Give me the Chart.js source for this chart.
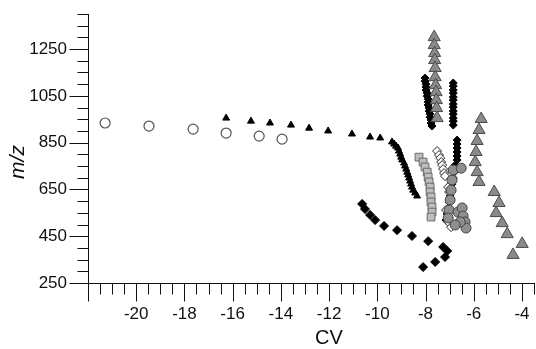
<!DOCTYPE html>
<html>
<head>
<meta charset="utf-8">
<script src="https://cdn.jsdelivr.net/npm/chart.js@4.4.1/dist/chart.umd.min.js"></script>
<style>
  html, body { margin: 0; padding: 0; background: #fff; overflow: hidden; }
  canvas { display: block; }
</style>
</head>
<body>
<canvas id="cvChart" width="536" height="349"></canvas>
<script>
// tick labels
const xTicks = [-22, -20, -18, -16, -14, -12, -10, -8, -6, -4];
const yTicks = [250, 450, 650, 850, 1050, 1250];

// series (CV, m/z)
const openCircles = [
  [-21.29, 934], [-19.47, 921], [-17.64, 908], [-16.27, 891], [-14.9, 878], [-13.95, 865]
];
const blackTriangles = [
  [-16.27, 955], [-15.24, 942], [-14.45, 934], [-13.58, 925], [-12.83, 912], [-12.04, 900],
  [-11.05, 887], [-10.3, 874], [-9.88, 870], [-9.39, 853], [-9.3, 844], [-9.22, 835],
  [-9.14, 827], [-9.1, 814], [-9.05, 801], [-9.01, 788], [-8.97, 776], [-8.89, 763],
  [-8.85, 750], [-8.8, 737], [-8.76, 724], [-8.72, 712], [-8.68, 699], [-8.64, 686],
  [-8.6, 673], [-8.56, 660], [-8.51, 647], [-8.43, 635], [-8.35, 622]
];
const grayTriangles = [
  [-7.64, 1301], [-7.64, 1267], [-7.62, 1233], [-7.62, 1203], [-7.6, 1169], [-7.6, 1130],
  [-7.58, 1096], [-7.56, 1066], [-7.55, 1032], [-7.54, 998], [-7.52, 955],
  [-5.69, 951], [-5.78, 904], [-5.86, 857], [-5.9, 810], [-5.94, 767], [-5.86, 724],
  [-5.78, 682], [-5.15, 639], [-4.95, 592], [-5.07, 549], [-4.82, 506], [-4.61, 459],
  [-3.99, 417], [-4.37, 370]
];
const blackDiamondsUpper = [
  [-8.02, 1126], [-8.02, 1113], [-7.98, 1100], [-7.98, 1088], [-7.98, 1075], [-7.93, 1062],
  [-7.93, 1049], [-7.89, 1036], [-7.89, 1024], [-7.89, 1011], [-7.85, 998], [-7.85, 985],
  [-7.81, 972], [-7.81, 959], [-7.77, 947], [-7.77, 934], [-7.73, 921],
  [-6.85, 1105], [-6.85, 1092], [-6.85, 1075], [-6.85, 1062], [-6.85, 1045], [-6.85, 1032],
  [-6.85, 1015], [-6.85, 1002], [-6.85, 985], [-6.85, 972], [-6.85, 955], [-6.85, 942],
  [-6.85, 925],
  [-6.69, 861], [-6.69, 844], [-6.69, 827], [-6.69, 810], [-6.69, 793], [-6.69, 776],
  [-6.77, 754], [-6.81, 724], [-6.85, 699], [-6.9, 673], [-6.94, 647], [-6.98, 622],
  [-7.02, 596], [-7.06, 571], [-7.1, 545], [-7.15, 519]
];
const blackDiamondsLower = [
  [-10.63, 588], [-10.51, 566], [-10.3, 541], [-10.09, 519], [-9.72, 494], [-9.18, 476],
  [-8.56, 451], [-7.89, 429], [-7.27, 404], [-7.1, 387], [-7.19, 361], [-7.6, 340],
  [-8.1, 318]
];
const graySquares = [
  [-8.27, 788], [-8.1, 767], [-8.02, 746], [-7.93, 724], [-7.89, 703], [-7.85, 682],
  [-7.81, 660], [-7.81, 639], [-7.77, 618], [-7.77, 596], [-7.73, 575], [-7.73, 553],
  [-7.77, 532]
];
const openDiamonds = [
  [-7.52, 814], [-7.44, 797], [-7.39, 784], [-7.35, 767], [-7.31, 754], [-7.27, 737],
  [-7.23, 720], [-7.19, 707], [-7.06, 660], [-7.02, 639], [-7.15, 562], [-7.06, 511],
  [-6.94, 489]
];
const grayCircles = [
  [-6.85, 733], [-6.52, 741], [-6.9, 690], [-6.94, 647], [-6.98, 605], [-7.02, 562],
  [-7.06, 528], [-6.65, 553], [-6.48, 571], [-6.44, 536], [-6.36, 511], [-6.32, 485],
  [-6.56, 511], [-6.77, 498]
];

const toXY = arr => arr.map(p => ({ x: p[0], y: p[1] }));

// axis lines, major + minor ticks and axis titles
const axesPlugin = {
  id: 'axesPlugin',
  afterDraw(chart) {
    const ctx = chart.ctx;
    const xs = chart.scales.x, ys = chart.scales.y;
    const x0 = Math.round(xs.left) + 0.5, y0 = Math.round(ys.bottom) + 0.5;
    ctx.save();
    ctx.strokeStyle = '#111';
    ctx.lineWidth = 1;
    ctx.beginPath();
    ctx.moveTo(x0, Math.round(ys.top));
    ctx.lineTo(x0, y0);
    ctx.lineTo(Math.round(xs.right) + 1, y0);
    for (let v = -22; v <= -3.5; v += 0.5) {
      const px = Math.round(xs.getPixelForValue(v)) + 0.5;
      ctx.moveTo(px, y0);
      ctx.lineTo(px, y0 + (v % 2 === 0 ? 18 : 11));
    }
    for (let v = 250; v <= 1400; v += 50) {
      const py = Math.round(ys.getPixelForValue(v)) + 0.5;
      ctx.moveTo(x0, py);
      ctx.lineTo(x0 - ((v - 250) % 200 === 0 ? 19 : 11), py);
    }
    ctx.stroke();

    ctx.fillStyle = '#111';
    ctx.textAlign = 'center';
    ctx.textBaseline = 'middle';
    ctx.font = '20px "Liberation Sans", Arial, sans-serif';
    ctx.fillText('CV', 329, 338);
    ctx.translate(18, 162);
    ctx.rotate(-Math.PI / 2);
    ctx.font = 'italic 21px "Liberation Sans", Arial, sans-serif';
    ctx.fillText('m/z', 0, 0);
    ctx.restore();
  }
};

const ds = (label, data, style, fill, border, r, bw) => ({
  label: label,
  data: toXY(data),
  pointStyle: style,
  backgroundColor: fill,
  borderColor: border,
  pointRadius: r,
  pointBorderWidth: bw,
  pointHoverRadius: r
});

const ctx = document.getElementById('cvChart').getContext('2d');
new Chart(ctx, {
  type: 'scatter',
  data: {
    datasets: [
      ds('gray triangles', grayTriangles, 'triangle', '#8a8a8a', '#4a4a4a', 7, 1),
      ds('open circles', openCircles, 'circle', '#fff', '#555', 5, 1.2),
      ds('black triangles', blackTriangles, 'triangle', '#000', '#000', 4, 1),
      ds('gray circles', grayCircles, 'circle', '#8f8f8f', '#444', 5, 1),
      ds('open diamonds', openDiamonds, 'rectRot', '#fff', '#222', 4.5, 1),
      ds('gray squares', graySquares, 'rect', '#bdbdbd', '#6a6a6a', 5.5, 1),
      ds('black diamonds', blackDiamondsUpper, 'rectRot', '#000', '#000', 4, 1),
      ds('black diamonds 2', blackDiamondsLower, 'rectRot', '#000', '#000', 4.5, 1)
    ]
  },
  options: {
    responsive: false,
    animation: false,
    layout: { autoPadding: false, padding: { top: 14, right: 2, left: 0, bottom: 0 } },
    plugins: {
      legend: { display: false },
      tooltip: { enabled: false }
    },
    scales: {
      x: {
        type: 'linear',
        min: -22,
        max: -3.5,
        afterBuildTicks: s => { s.ticks = xTicks.map(v => ({ value: v })); },
        afterFit: s => { s.height = 66; s.paddingLeft = 0; s.paddingRight = 0; },
        grid: { display: false, drawTicks: false },
        border: { display: false },
        ticks: {
          autoSkip: false,
          maxRotation: 0,
          padding: 21,
          color: '#111',
          font: { family: '"Liberation Sans", Arial, sans-serif', size: 17 },
          callback: v => (v === -22 ? '' : String(v))
        }
      },
      y: {
        type: 'linear',
        min: 250,
        max: 1400,
        afterBuildTicks: s => { s.ticks = yTicks.map(v => ({ value: v })); },
        afterFit: s => { s.width = 88; s.paddingTop = 0; s.paddingBottom = 0; },
        grid: { display: false, drawTicks: false },
        border: { display: false },
        ticks: {
          padding: 21,
          color: '#111',
          font: { family: '"Liberation Sans", Arial, sans-serif', size: 17 },
          callback: v => String(v)
        }
      }
    }
  },
  plugins: [axesPlugin]
});
</script>
</body>
</html>
